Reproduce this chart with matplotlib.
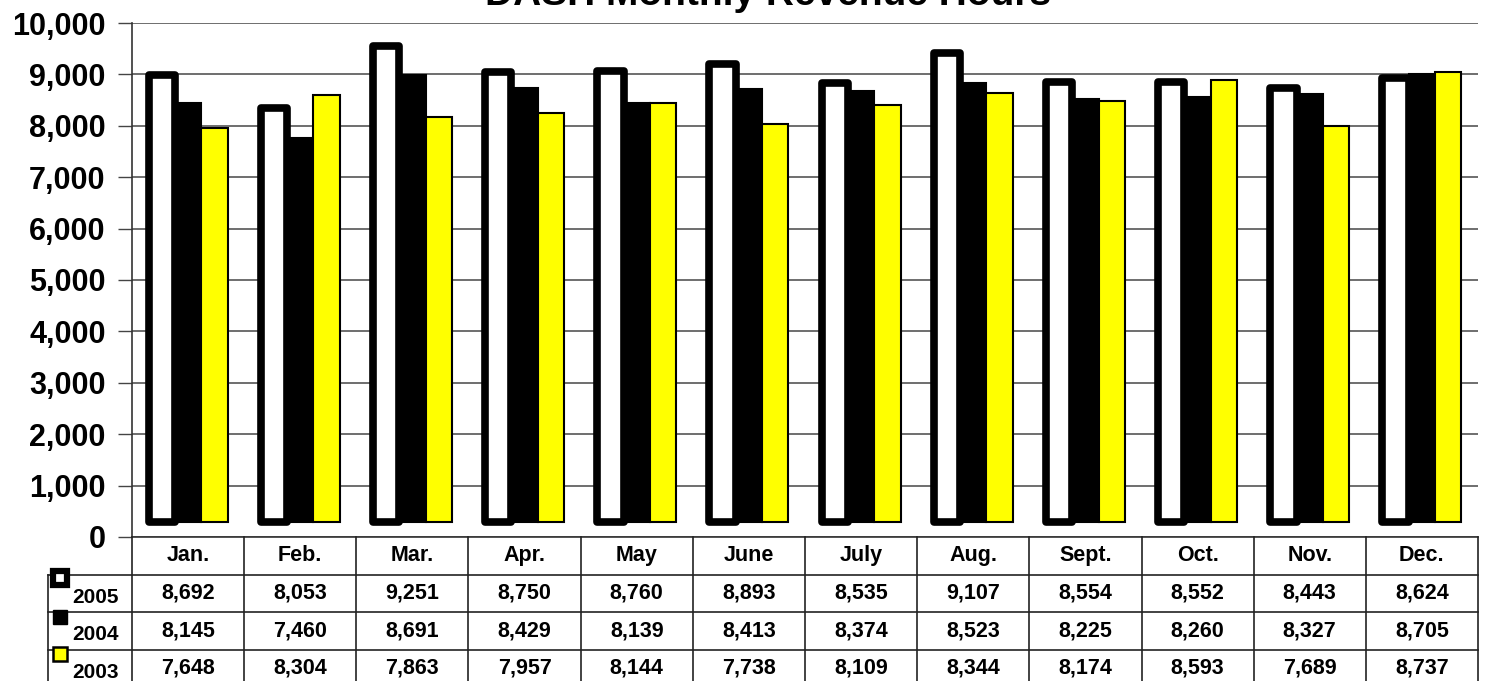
import matplotlib
matplotlib.use("Agg")
import matplotlib.pyplot as plt
import numpy as np

plt.rcParams['font.family'] = ['Liberation Sans', 'DejaVu Sans']
plt.rcParams['font.weight'] = 'bold'

# data
months = ['Jan.', 'Feb.', 'Mar.', 'Apr.', 'May', 'June', 'July', 'Aug.',
          'Sept.', 'Oct.', 'Nov.', 'Dec.']
years = ['2005', '2004', '2003']
hours_2005 = [8692, 8053, 9251, 8750, 8760, 8893, 8535, 9107, 8554, 8552, 8443, 8624]
hours_2004 = [8145, 7460, 8691, 8429, 8139, 8413, 8374, 8523, 8225, 8260, 8327, 8705]
hours_2003 = [7648, 8304, 7863, 7957, 8144, 7738, 8109, 8344, 8174, 8593, 7689, 8737]
yticks = list(range(0, 10001, 1000))

W, H = 1496, 681
fig = plt.figure(figsize=(W / 100, H / 100), dpi=100)

# main chart area (pixel layout of the original)
left, right, top, bottom = 132, 1478, 23, 537
ax = fig.add_axes([left / W, (H - bottom) / H, (right - left) / W, (bottom - top) / H])

x = np.arange(len(months))
bw = 0.235
base = 300  # bars float a little above the floor, as in the original

b05 = ax.bar(x - bw, hours_2005, bw, bottom=base, color='white', edgecolor='black',
             linewidth=5.5, zorder=3)
for p in b05:
    p.set_joinstyle('round')
ax.bar(x, hours_2004, bw, bottom=base, color='black', edgecolor='black',
       linewidth=1.5, zorder=3)
ax.bar(x + bw, hours_2003, bw, bottom=base, color='#FFFF00', edgecolor='black',
       linewidth=1.5, zorder=3)

ax.set_xlim(-0.5, len(months) - 0.5)
ax.set_ylim(0, 10000)
ax.set_yticks(yticks)
ax.set_yticklabels([f'{v:,}' for v in yticks], fontsize=22, fontweight='bold')
ax.tick_params(axis='y', length=10, width=1, color='#444444', pad=9)
ax.set_xticks([])
ax.grid(axis='y', color='#555555', linewidth=1.2, zorder=0)
for s in ['top', 'right']:
    ax.spines[s].set_visible(False)
ax.spines['left'].set_color('#333333')
ax.spines['bottom'].set_color('#333333')
ax.spines['left'].set_linewidth(1.2)
ax.spines['bottom'].set_linewidth(1.2)

fig.text(768 / W, 1 - 5 / H, 'DASH Monthly Revenue Hours', ha='center',
         va='baseline', fontsize=28, fontweight='bold')

# data table below the chart
row_h = 37.5
tax = fig.add_axes([left / W, (H - bottom - 4 * row_h) / H, (right - left) / W, 4 * row_h / H],
                   sharex=ax)
tax.set_ylim(0, 4)
tax.axis('off')
col_px = (right - left) / len(months)
lab_x = -0.5 - (left - 48) / col_px

lc = '#222222'
for k in range(len(months) + 1):
    tax.plot([k - 0.5, k - 0.5], [0, 4], color=lc, lw=1.2, clip_on=False)
tax.plot([lab_x, lab_x], [0, 3], color=lc, lw=1.2, clip_on=False)
for yy in [3, 2, 1]:
    tax.plot([lab_x, len(months) - 0.5], [yy, yy], color=lc, lw=1.2, clip_on=False)

for i, m in enumerate(months):
    tax.text(i, 3.5, m, ha='center', va='center', fontsize=15.5, fontweight='bold')
for r, vals in enumerate([hours_2005, hours_2004, hours_2003]):
    for i, v in enumerate(vals):
        tax.text(i, 2.5 - r, f'{v:,}', ha='center', va='center', fontsize=15.5,
                 fontweight='bold')

# row labels with legend keys
mk_x = lab_x + 12 / col_px
styles = [dict(mfc='white', mec='black', ms=10.5, mew=4.5),
          dict(mfc='black', mec='black', ms=10.5, mew=1),
          dict(mfc='#FFFF00', mec='black', ms=9.5, mew=1.8)]
mk_y = [2.92, 1.88, 0.88]
for r, yr in enumerate(years):
    tax.text(lab_x + 24 / col_px, 2 - r + 0.24, yr, ha='left', va='baseline',
             fontsize=15, fontweight='bold')
    tax.plot([mk_x], [mk_y[r]], marker='s', clip_on=False, zorder=5, **styles[r])

fig.savefig('out.png', dpi=100)
